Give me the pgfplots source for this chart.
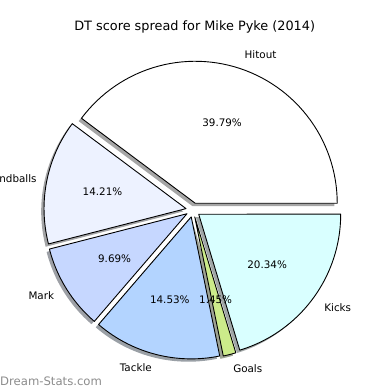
\documentclass[border=0pt]{standalone}
\usepackage{pgfplots}
\pgfplotsset{compat=1.18}
\usepackage{fontspec}
\setmainfont{DejaVu Sans}

\definecolor{cHit}{HTML}{FFFFFF}
\definecolor{cHan}{HTML}{EDF2FF}
\definecolor{cMar}{HTML}{C6D7FF}
\definecolor{cTac}{HTML}{B3D4FF}
\definecolor{cGoa}{HTML}{CCEB8A}
\definecolor{cKic}{HTML}{D9FFFF}
\definecolor{sHit}{HTML}{A6A6A6}
\definecolor{sHan}{HTML}{A3A4A6}
\definecolor{sMar}{HTML}{9DA0A6}
\definecolor{sTac}{HTML}{9AA0A6}
\definecolor{sGoa}{HTML}{9EA394}
\definecolor{sKic}{HTML}{A0A6A6}
\definecolor{wm}{HTML}{8C8C8C}

% centre of the pie (bp), radius, explode offset
\newcommand{\cx}{193}
\newcommand{\cy}{180}
\newcommand{\rad}{142}
\newcommand{\expl}{7.1}

% #1 start angle, #2 end angle, #3 options, #4 shift x, #5 shift y
\newcommand{\wedgeplot}[5]{%
  \addplot[#3, samples at={-1,0,...,60,61}, variable=\t]
   ({\cx + #4 + \expl*cos((#1+#2)/2) + \rad*(\t>=0)*(\t<=60)*cos(#1 + max(0,min(60,\t))*(#2-#1)/60)},
    {\cy + #5 + \expl*sin((#1+#2)/2) + \rad*(\t>=0)*(\t<=60)*sin(#1 + max(0,min(60,\t))*(#2-#1)/60)});
}

\begin{document}
\begin{tikzpicture}
\useasboundingbox (0,0) rectangle (390bp,390bp);
\clip (0,0) rectangle (390bp,390bp);
% percentages
\pgfmathsetmacro\vHit{39.79}
\pgfmathsetmacro\vHan{14.21}
\pgfmathsetmacro\vMar{9.69}
\pgfmathsetmacro\vTac{14.53}
\pgfmathsetmacro\vGoa{1.45}
\pgfmathsetmacro\vKic{20.34}
\pgfmathsetmacro\aA{0}
\pgfmathsetmacro\aB{\aA+3.6*\vHit}
\pgfmathsetmacro\aC{\aB+3.6*\vHan}
\pgfmathsetmacro\aD{\aC+3.6*\vMar}
\pgfmathsetmacro\aE{\aD+3.6*\vTac}
\pgfmathsetmacro\aF{\aE+3.6*\vGoa}
\pgfmathsetmacro\aG{\aF+3.6*\vKic}
\pgfmathsetmacro\mA{(\aA+\aB)/2}
\pgfmathsetmacro\mB{(\aB+\aC)/2}
\pgfmathsetmacro\mC{(\aC+\aD)/2}
\pgfmathsetmacro\mD{(\aD+\aE)/2}
\pgfmathsetmacro\mE{(\aE+\aF)/2}
\pgfmathsetmacro\mF{(\aF+\aG)/2}
\begin{axis}[x=1bp, y=1bp, xmin=0, xmax=390, ymin=0, ymax=390,
  hide axis, clip=false, anchor=origin, at={(0,0)}]
% shadows
\wedgeplot{\aA}{\aB}{fill=sHit, draw=none}{-2.84}{-2.84}
\wedgeplot{\aB}{\aC}{fill=sHan, draw=none}{-2.84}{-2.84}
\wedgeplot{\aC}{\aD}{fill=sMar, draw=none}{-2.84}{-2.84}
\wedgeplot{\aD}{\aE}{fill=sTac, draw=none}{-2.84}{-2.84}
\wedgeplot{\aE}{\aF}{fill=sGoa, draw=none}{-2.84}{-2.84}
\wedgeplot{\aF}{\aG}{fill=sKic, draw=none}{-2.84}{-2.84}
% wedges
\wedgeplot{\aA}{\aB}{fill=cHit, draw=black, line width=0.9bp, line join=round, line cap=round}{0}{0}
\wedgeplot{\aB}{\aC}{fill=cHan, draw=black, line width=0.9bp, line join=round, line cap=round}{0}{0}
\wedgeplot{\aC}{\aD}{fill=cMar, draw=black, line width=0.9bp, line join=round, line cap=round}{0}{0}
\wedgeplot{\aD}{\aE}{fill=cTac, draw=black, line width=0.9bp, line join=round, line cap=round}{0}{0}
\wedgeplot{\aE}{\aF}{fill=cGoa, draw=black, line width=0.9bp, line join=round, line cap=round}{0}{0}
\wedgeplot{\aF}{\aG}{fill=cKic, draw=black, line width=0.9bp, line join=round, line cap=round}{0}{0}
% labels (baseline placed 3.8 px below the label point, as in the reference)
\tikzset{lab/.style={inner sep=0pt, yshift=-3.8bp, font=\fontsize{10.4}{12.5}\selectfont}}
\path (axis cs:\cx,\cy) ++(\mA:163.3bp) node[lab, anchor=base west] {Hitout};
\path (axis cs:\cx,\cy) ++(\mB:163.3bp) node[lab, anchor=base east, xshift=4bp] {Handballs};
\path (axis cs:\cx,\cy) ++(\mC:163.3bp) node[lab, anchor=base east] {Mark};
\path (axis cs:\cx,\cy) ++(\mD:163.3bp) node[lab, anchor=base east] {Tackle};
\path (axis cs:\cx,\cy) ++(\mE:163.3bp) node[lab, anchor=base west] {Goals};
\path (axis cs:\cx,\cy) ++(\mF:163.3bp) node[lab, anchor=base west] {Kicks};
% percentages
\path (axis cs:\cx,\cy) ++(\mA:92.3bp) node[lab, anchor=base] {39.79\%};
\path (axis cs:\cx,\cy) ++(\mB:92.3bp) node[lab, anchor=base] {14.21\%};
\path (axis cs:\cx,\cy) ++(\mC:92.3bp) node[lab, anchor=base] {9.69\%};
\path (axis cs:\cx,\cy) ++(\mD:92.3bp) node[lab, anchor=base] {14.53\%};
\path (axis cs:\cx,\cy) ++(\mE:92.3bp) node[lab, anchor=base] {1.45\%};
\path (axis cs:\cx,\cy) ++(\mF:92.3bp) node[lab, anchor=base] {20.34\%};
% title and watermark
\node[inner sep=0pt, anchor=base, font=\fontsize{12.9}{15}\selectfont] at (axis cs:194.7,360) {DT score spread for Mike Pyke (2014)};
\node[inner sep=0pt, anchor=base west, text=wm, font=\fontsize{11.7}{14}\selectfont] at (axis cs:0,5) {Dream-Stats.com};
\end{axis}
\end{tikzpicture}
\end{document}
